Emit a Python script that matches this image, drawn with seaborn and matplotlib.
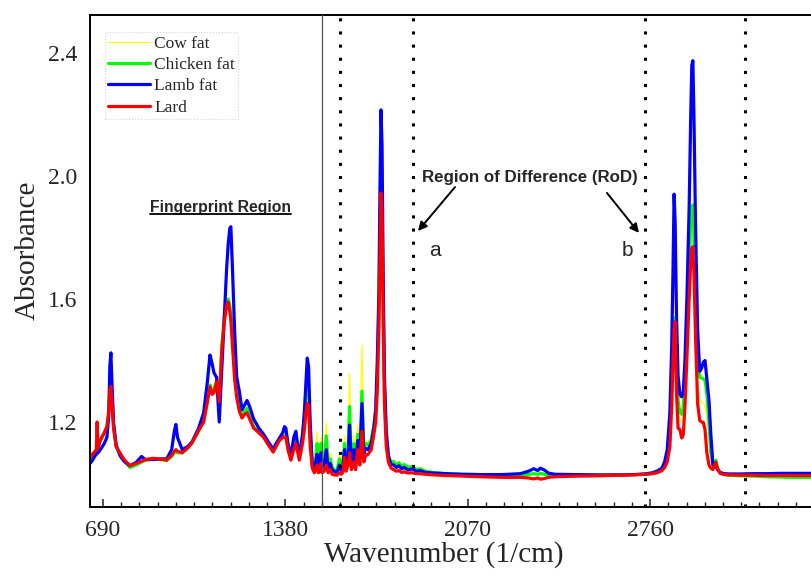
import matplotlib
matplotlib.use('Agg')
import matplotlib.pyplot as plt
import seaborn as sns
import pandas as pd
from matplotlib.ticker import MultipleLocator
from matplotlib.lines import Line2D

# ---------------- data ----------------
# fingerprint region
wn_a = [641, 650, 660, 665, 668, 671, 680, 695, 705, 712,
        716, 720, 724, 730, 740, 755, 770, 792, 815, 836,
        850, 880, 910, 931, 950, 960, 966, 972, 990, 1010,
        1027, 1052, 1071, 1085, 1095, 1103, 1110, 1120, 1130, 1140,
        1150, 1158, 1164, 1170, 1174, 1180, 1188, 1196, 1206, 1216,
        1226, 1235, 1245, 1260, 1280, 1298, 1316, 1334, 1345, 1356,
        1370, 1377, 1382, 1390, 1401, 1412, 1420, 1427, 1433, 1445,
        1452, 1458, 1463, 1468, 1474, 1482]
cow_a = [1.075, 1.085, 1.100, 1.105, 1.110, 1.112, 1.135, 1.160, 1.180, 1.230,
         1.300, 1.320, 1.270, 1.180, 1.120, 1.095, 1.075, 1.055, 1.062, 1.072,
         1.076, 1.080, 1.078, 1.075, 1.090, 1.105, 1.112, 1.105, 1.100, 1.115,
         1.132, 1.170, 1.200, 1.260, 1.310, 1.295, 1.300, 1.330, 1.280, 1.440,
         1.540, 1.585, 1.590, 1.570, 1.540, 1.470, 1.360, 1.290, 1.240, 1.215,
         1.230, 1.240, 1.215, 1.180, 1.165, 1.150, 1.125, 1.105, 1.125, 1.140,
         1.160, 1.175, 1.165, 1.120, 1.080, 1.130, 1.150, 1.120, 1.080, 1.140,
         1.200, 1.280, 1.300, 1.280, 1.150, 1.060]
chicken_a = [1.078, 1.088, 1.102, 1.108, 1.112, 1.115, 1.140, 1.165, 1.185, 1.240,
             1.320, 1.335, 1.280, 1.185, 1.120, 1.095, 1.075, 1.052, 1.060, 1.070,
             1.075, 1.080, 1.078, 1.075, 1.088, 1.100, 1.108, 1.100, 1.100, 1.115,
             1.132, 1.172, 1.205, 1.270, 1.320, 1.300, 1.305, 1.335, 1.280, 1.450,
             1.550, 1.595, 1.600, 1.580, 1.550, 1.480, 1.380, 1.300, 1.250, 1.220,
             1.235, 1.245, 1.220, 1.185, 1.168, 1.152, 1.128, 1.108, 1.125, 1.142,
             1.160, 1.175, 1.168, 1.120, 1.085, 1.135, 1.155, 1.120, 1.085, 1.145,
             1.210, 1.300, 1.320, 1.300, 1.160, 1.065]
lamb_a = [1.065, 1.075, 1.090, 1.095, 1.098, 1.100, 1.110, 1.130, 1.150, 1.220,
          1.380, 1.425, 1.330, 1.200, 1.125, 1.090, 1.072, 1.058, 1.068, 1.088,
          1.078, 1.078, 1.080, 1.080, 1.110, 1.170, 1.192, 1.150, 1.110, 1.120,
          1.135, 1.180, 1.230, 1.330, 1.418, 1.390, 1.360, 1.345, 1.200, 1.380,
          1.560, 1.700, 1.780, 1.830, 1.835, 1.700, 1.500, 1.347, 1.300, 1.240,
          1.255, 1.270, 1.250, 1.210, 1.180, 1.160, 1.135, 1.112, 1.130, 1.145,
          1.165, 1.185, 1.180, 1.130, 1.090, 1.150, 1.170, 1.120, 1.090, 1.160,
          1.230, 1.330, 1.408, 1.380, 1.200, 1.060]
lard_a = [1.085, 1.095, 1.105, 1.110, 1.200, 1.115, 1.140, 1.165, 1.185, 1.230,
          1.300, 1.315, 1.265, 1.180, 1.120, 1.098, 1.078, 1.058, 1.065, 1.072,
          1.078, 1.082, 1.079, 1.076, 1.092, 1.105, 1.110, 1.105, 1.100, 1.115,
          1.132, 1.172, 1.200, 1.265, 1.315, 1.290, 1.295, 1.331, 1.266, 1.440,
          1.530, 1.580, 1.590, 1.560, 1.530, 1.450, 1.340, 1.280, 1.235, 1.213,
          1.225, 1.230, 1.210, 1.180, 1.165, 1.150, 1.125, 1.102, 1.120, 1.138,
          1.150, 1.152, 1.150, 1.110, 1.076, 1.110, 1.130, 1.100, 1.076, 1.130,
          1.174, 1.230, 1.260, 1.255, 1.120, 1.050]

# water-vapour noise region
wn_b = [1490, 1496, 1500, 1505, 1510, 1515, 1520, 1527, 1535, 1542,
        1550, 1557, 1565, 1575, 1585, 1592, 1597, 1604, 1610, 1617,
        1623, 1630, 1639, 1646, 1654, 1662, 1670, 1677, 1683, 1693,
        1705, 1715]
cow_b = [1.070, 1.100, 1.168, 1.075, 1.080, 1.150, 1.070, 1.080, 1.197, 1.070,
         1.100, 1.060, 1.050, 1.045, 1.100, 1.055, 1.070, 1.155, 1.070, 1.120,
         1.359, 1.080, 1.155, 1.080, 1.190, 1.100, 1.450, 1.120, 1.140, 1.130,
         1.150, 1.200]
chicken_b = [1.060, 1.090, 1.130, 1.065, 1.070, 1.130, 1.060, 1.070, 1.155, 1.060,
             1.080, 1.052, 1.045, 1.040, 1.080, 1.050, 1.060, 1.130, 1.060, 1.100,
             1.250, 1.070, 1.130, 1.070, 1.160, 1.090, 1.300, 1.110, 1.130, 1.125,
             1.140, 1.190]
lamb_b = [1.050, 1.075, 1.095, 1.055, 1.058, 1.100, 1.050, 1.060, 1.110, 1.050,
          1.065, 1.045, 1.040, 1.035, 1.060, 1.042, 1.050, 1.110, 1.050, 1.080,
          1.190, 1.060, 1.110, 1.060, 1.140, 1.080, 1.260, 1.090, 1.115, 1.110,
          1.130, 1.180]
lard_b = [1.035, 1.050, 1.060, 1.035, 1.038, 1.065, 1.035, 1.040, 1.060, 1.035,
          1.045, 1.030, 1.028, 1.027, 1.035, 1.030, 1.035, 1.085, 1.040, 1.060,
          1.100, 1.045, 1.070, 1.045, 1.110, 1.060, 1.170, 1.070, 1.090, 1.095,
          1.110, 1.160]

# carbonyl band and tail
wn_c = [1722, 1728, 1734, 1738, 1742, 1746, 1750, 1755, 1762, 1770,
        1780, 1790, 1800, 1810, 1820, 1830, 1845, 1860, 1875, 1890,
        1910, 1940]
cow_c = [1.250, 1.350, 1.550, 1.780, 1.930, 1.900, 1.600, 1.300, 1.150, 1.085,
         1.065, 1.070, 1.058, 1.065, 1.052, 1.060, 1.050, 1.055, 1.045, 1.048,
         1.040, 1.036]
chicken_c = [1.240, 1.340, 1.560, 1.800, 1.960, 1.920, 1.620, 1.310, 1.155, 1.090,
             1.068, 1.072, 1.060, 1.068, 1.055, 1.062, 1.052, 1.056, 1.046, 1.048,
             1.040, 1.036]
lamb_c = [1.240, 1.400, 1.620, 1.950, 2.215, 2.100, 1.700, 1.350, 1.170, 1.090,
          1.062, 1.060, 1.052, 1.058, 1.048, 1.052, 1.044, 1.048, 1.040, 1.042,
          1.036, 1.034]
lard_c = [1.200, 1.300, 1.500, 1.720, 1.945, 1.880, 1.550, 1.260, 1.120, 1.070,
          1.050, 1.045, 1.040, 1.042, 1.036, 1.038, 1.034, 1.035, 1.032, 1.032,
          1.030, 1.028]

# flat middle region
wn_d = [1990, 2050, 2120, 2200, 2270, 2300, 2320, 2335, 2345, 2360,
        2375, 2400, 2480, 2560, 2650, 2700, 2740]
cow_d = [1.032, 1.030, 1.029, 1.028, 1.028, 1.030, 1.032, 1.030, 1.033, 1.030,
         1.028, 1.027, 1.027, 1.027, 1.028, 1.029, 1.030]
chicken_d = [1.032, 1.030, 1.029, 1.028, 1.028, 1.030, 1.032, 1.030, 1.033, 1.030,
             1.028, 1.027, 1.027, 1.027, 1.028, 1.029, 1.030]
lamb_d = [1.032, 1.030, 1.029, 1.029, 1.032, 1.040, 1.048, 1.042, 1.050, 1.044,
          1.034, 1.030, 1.029, 1.028, 1.028, 1.029, 1.031]
lard_d = [1.026, 1.024, 1.022, 1.020, 1.020, 1.018, 1.015, 1.018, 1.014, 1.016,
          1.020, 1.022, 1.024, 1.025, 1.027, 1.028, 1.030]

# C-H stretching region
wn_e = [2770, 2790, 2805, 2815, 2825, 2835, 2842, 2847, 2851, 2855,
        2860, 2866, 2873, 2880, 2886, 2892, 2900, 2908, 2914, 2918,
        2922, 2926, 2932, 2940, 2948, 2955, 2962, 2968, 2975, 2983,
        2990, 2998, 3003, 3009, 3015, 3025, 3040, 3060, 3100, 3150,
        3200, 3250, 3300, 3370]
cow_e = [1.033, 1.038, 1.045, 1.058, 1.090, 1.170, 1.300, 1.420, 1.500, 1.520,
         1.380, 1.250, 1.205, 1.200, 1.230, 1.330, 1.500, 1.680, 1.800, 1.840,
         1.830, 1.750, 1.550, 1.330, 1.270, 1.266, 1.262, 1.250, 1.220, 1.150,
         1.080, 1.055, 1.062, 1.072, 1.050, 1.036, 1.030, 1.028, 1.027, 1.027,
         1.026, 1.026, 1.026, 1.026]
chicken_e = [1.033, 1.038, 1.045, 1.058, 1.090, 1.170, 1.310, 1.440, 1.520, 1.540,
             1.400, 1.270, 1.230, 1.225, 1.250, 1.350, 1.520, 1.720, 1.860, 1.900,
             1.906, 1.820, 1.600, 1.400, 1.345, 1.343, 1.340, 1.335, 1.290, 1.200,
             1.100, 1.062, 1.068, 1.076, 1.052, 1.036, 1.030, 1.027, 1.025, 1.024,
             1.022, 1.021, 1.020, 1.020]
lamb_e = [1.035, 1.042, 1.050, 1.070, 1.110, 1.230, 1.450, 1.700, 1.941, 1.850,
          1.550, 1.350, 1.290, 1.282, 1.300, 1.400, 1.620, 1.900, 2.200, 2.360,
          2.375, 2.200, 1.850, 1.500, 1.365, 1.375, 1.395, 1.400, 1.340, 1.270,
          1.160, 1.060, 1.058, 1.058, 1.045, 1.036, 1.032, 1.031, 1.031, 1.032,
          1.032, 1.033, 1.033, 1.033]
lard_e = [1.032, 1.036, 1.042, 1.052, 1.070, 1.120, 1.250, 1.400, 1.500, 1.526,
          1.300, 1.180, 1.175, 1.148, 1.160, 1.250, 1.420, 1.600, 1.720, 1.765,
          1.770, 1.690, 1.480, 1.260, 1.205, 1.200, 1.198, 1.175, 1.100, 1.060,
          1.050, 1.045, 1.060, 1.069, 1.048, 1.033, 1.029, 1.028, 1.027, 1.027,
          1.026, 1.026, 1.026, 1.026]

wavenumber = wn_a + wn_b + wn_c + wn_d + wn_e
cow_fat = cow_a + cow_b + cow_c + cow_d + cow_e
chicken_fat = chicken_a + chicken_b + chicken_c + chicken_d + chicken_e
lamb_fat = lamb_a + lamb_b + lamb_c + lamb_d + lamb_e
lard = lard_a + lard_b + lard_c + lard_d + lard_e

series_names = ['Cow fat', 'Chicken fat', 'Lamb fat', 'Lard']
series_values = [cow_fat, chicken_fat, lamb_fat, lard]
series_colors = ['#ffff00', '#00ff00', '#0000ff', '#ff0000']
series_widths = [0.9, 2.3, 2.3, 2.3]

region_lines = [1587, 1864, 2741, 3119]
boundary_line = 1517

x_ticks = [690, 1380, 2070, 2760]
y_ticks = [1.2, 1.6, 2.0, 2.4]

# ---------------- plot ----------------
sns.set_style('white')
plt.rcParams['font.family'] = ['Liberation Serif', 'DejaVu Serif']

W, H = 811, 577
fig = plt.figure(figsize=(W / 100, H / 100), dpi=100)
ax = fig.add_axes([90 / W, 70 / H, 721 / W, 492 / H])

for name, vals, col, lw in zip(series_names, series_values, series_colors, series_widths):
    assert len(vals) == len(wavenumber)
    df = pd.DataFrame({'Wavenumber': wavenumber, 'Absorbance': vals})
    sns.lineplot(data=df, x='Wavenumber', y='Absorbance', ax=ax, color=col,
                 linewidth=lw, label=name, sort=False, estimator=None)

ax.axvline(boundary_line, color='#555555', lw=0.9, zorder=5)
for xv in region_lines:
    ax.axvline(xv, color='black', lw=2.2, ls=(0, (1, 3.3)), zorder=5)

ax.set_xlim(641, 3369)
ax.set_ylim(0.9236, 2.5236)

ax.set_xticks(x_ticks)
ax.set_xticklabels([str(t) for t in x_ticks])
ax.xaxis.set_minor_locator(MultipleLocator(69))
ax.set_yticks(y_ticks)
ax.set_yticklabels([f'{t:.1f}' for t in y_ticks])

ax.tick_params(axis='x', which='major', direction='in', length=6, width=1.1,
               labelsize=17, pad=9, bottom=True)
ax.tick_params(axis='x', which='minor', direction='in', length=3.5, width=1.0, bottom=True)
ax.tick_params(axis='y', which='both', length=0, labelsize=17, pad=9)

for s in ['top', 'bottom', 'left']:
    ax.spines[s].set_linewidth(1.4)
    ax.spines[s].set_color('black')
ax.spines['right'].set_visible(False)

ax.set_xlabel('Wavenumber (1/cm)', fontsize=21)
ax.set_ylabel('Absorbance', fontsize=21)
ax.xaxis.set_label_coords(0.491, -0.07)
ax.yaxis.set_label_coords(-0.068, 0.522)

leg = ax.legend(loc='upper left', bbox_to_anchor=(0.0204, 0.9654), borderaxespad=0,
                fontsize=12.5, frameon=True, fancybox=False, edgecolor='#c8c8c8',
                handlelength=2.4, handletextpad=0.25, labelspacing=0.3, borderpad=0.2)
leg.get_frame().set_linestyle(':')
leg.get_frame().set_linewidth(0.8)

sans = ['Liberation Sans', 'DejaVu Sans']
fp = ax.text(1136, 1.899, 'Fingerprint Region', family=sans, fontweight='bold',
             fontsize=11.3, ha='center', va='center')
ax.text(2306, 1.994, 'Region of Difference (RoD)', family=sans, fontweight='bold',
        fontsize=12.2, ha='center', va='center')
ax.annotate('', xy=(1882, 1.821), xytext=(2022, 1.964),
            arrowprops=dict(arrowstyle='-|>', color='black', lw=1.4, mutation_scale=13,
                            shrinkA=0, shrinkB=0))
ax.annotate('', xy=(2718, 1.815), xytext=(2597, 1.945),
            arrowprops=dict(arrowstyle='-|>', color='black', lw=1.4, mutation_scale=13,
                            shrinkA=0, shrinkB=0))
ax.text(1946, 1.759, 'a', family=sans, fontsize=15, ha='center', va='center')
ax.text(2673, 1.759, 'b', family=sans, fontsize=15, ha='center', va='center')

# underline for the fingerprint label
fig.canvas.draw()
bb = fp.get_window_extent()
inv = fig.transFigure.inverted()
(x0, y0), (x1, _) = inv.transform([(bb.x0, bb.y0 + 1), (bb.x1, bb.y0 + 1)])
fig.add_artist(Line2D([x0, x1], [y0, y0], color='black', lw=1.3))

fig.savefig('out.png', dpi=100)
